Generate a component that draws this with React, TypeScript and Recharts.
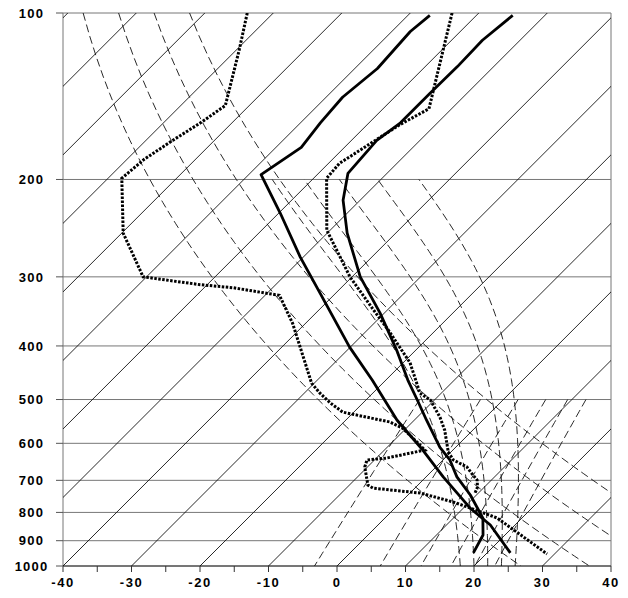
import React from 'react'
import { ScatterChart, Scatter, XAxis, YAxis, CartesianGrid, ReferenceLine } from 'recharts'

// skew of the isotherms: °C shifted per decade of pressure (45° on this plot)
const SKEW = 80.7

const pressureTicks = [100, 200, 300, 400, 500, 600, 700, 800, 900, 1000]
const tempTicks = [-40, -35, -30, -25, -20, -15, -10, -5, 0, 5, 10, 15, 20, 25, 30, 35, 40]

// background families of the diagram
const isotherms = [-120, -110, -100, -90, -80, -70, -60, -50, -40, -30, -20, -10, 0, 10, 20, 30, 40]
const dryAdiabats = [300, 310, 320, 330] // potential temperature, K
const moistAdiabats = [18, 20, 22, 24, 26] // wet-bulb potential temperature, °C
const mixingRatios = [3, 6, 9, 12, 15, 18] // g/kg

// soundings (pressure hPa, temperature °C)
const dottedLeftP = [100, 117, 147, 158, 170, 184, 199, 250, 300, 310, 314, 324, 364, 467, 487, 507, 527, 549, 563, 597, 617, 638, 643, 662, 714, 723, 738, 766, 782, 819, 951]
const dottedLeftT = [-93.8, -89.5, -83.5, -84.6, -86.1, -87.5, -88.0, -79.8, -70.5, -61.0, -55.7, -47.9, -41.9, -30.4, -27.7, -24.8, -21.6, -13.3, -10.6, -6.4, -4.1, -8.5, -11.1, -10.4, -7.3, -6.1, 1.5, 7.6, 10.4, 16.4, 28.9]

const dottedRightP = [100, 149, 159, 187, 199, 247, 300, 344, 374, 429, 487, 501, 538, 568, 622, 643, 662, 685, 699, 720, 738]
const dottedRightT = [-63.9, -53.3, -55.2, -58.4, -58.1, -50.5, -40.3, -32.1, -27.0, -19.0, -13.1, -10.6, -6.7, -4.1, -0.4, 1.5, 4.5, 6.6, 7.9, 9.0, 9.5]

const solidLeftP = [101, 108, 126, 142, 158, 175, 196, 230, 276, 321, 402, 461, 545, 617, 690, 786, 843, 947]
const solidLeftT = [-66.8, -67.3, -66.7, -67.6, -67.1, -66.3, -68.2, -59.8, -50.5, -42.3, -30.1, -22.0, -12.5, -4.4, 2.5, 11.0, 16.4, 23.4]

const solidRightP = [101, 112, 125, 140, 158, 170, 195, 218, 250, 300, 349, 407, 461, 501, 545, 610, 643, 690, 744, 819, 879, 947]
const solidRightT = [-54.7, -55.5, -55.3, -55.4, -55.4, -56.3, -55.7, -52.5, -47.1, -38.8, -30.6, -22.8, -16.8, -12.5, -8.2, -2.3, 1.0, 4.5, 9.1, 14.3, 16.8, 18.0]

const FONT = '"Liberation Sans", Arial, sans-serif'

function skewX(t: number, p: number) {
  return t + SKEW * Math.log10(1000 / p)
}

function profile(pres: number[], temp: number[]) {
  return pres.map((p, i) => ({ p, x: skewX(temp[i], p) }))
}

function levels(from: number, to: number, step: number) {
  const out: number[] = []
  for (let p = from; p <= to; p += step) out.push(p)
  return out
}

function satVap(tc: number) {
  return 6.112 * Math.exp((17.67 * tc) / (tc + 243.5))
}

function dryLine(theta: number) {
  return levels(100, 1000, 10).map(p => ({ p, x: skewX(theta * Math.pow(p / 1000, 0.2857) - 273.15, p) }))
}

function mixingLine(w: number) {
  const r = w / 1000
  return levels(500, 1000, 25).map(p => {
    const e = (r * p) / (0.622 + r)
    const g = Math.log(e / 6.112)
    const td = (243.5 * g) / (17.67 - g)
    return { p, x: skewX(td, p) }
  })
}

function moistLine(thetaW: number) {
  const Rd = 287.04, cp = 1005.7, Lv = 2.501e6, eps = 0.622
  let T = thetaW + 273.15
  const pts: { p: number; x: number }[] = []
  for (let p = 1000; p >= 200; p -= 1) {
    if (p % 10 === 0) pts.push({ p, x: skewX(T - 273.15, p) })
    const es = satVap(T - 273.15)
    const rs = (eps * es) / (p - es)
    const dTdp = ((Rd * T + Lv * rs) / p) / (cp + (Lv * Lv * rs * eps) / (Rd * T * T))
    T -= dTdp
  }
  return pts
}

function isotherm(t: number) {
  return [{ p: 1000, x: skewX(t, 1000) }, { p: 100, x: skewX(t, 100) }]
}

const NoDot = () => <g />

function PressureTick({ y, payload }: { y?: number; payload?: { value: number } }) {
  return (
    <text x={31.5} y={y} dy="0.36em" textAnchor="middle" fontFamily={FONT}
      fontSize={13} fontWeight="bold" letterSpacing={1.2} fill="#000">
      {payload?.value}
    </text>
  )
}

function TempTick({ x, payload }: { x?: number; payload?: { value: number } }) {
  if (!payload || payload.value % 10 !== 0) return <g />
  return (
    <text x={x} y={587} textAnchor="middle" fontFamily={FONT}
      fontSize={13} fontWeight="bold" letterSpacing={1.5} fill="#000">
      {payload.value}
    </text>
  )
}

const thin = { stroke: '#111', strokeWidth: 0.9 }
const dashed = { stroke: '#111', strokeWidth: 0.9, strokeDasharray: '8 4' }
const thickSolid = { stroke: '#000', strokeWidth: 2.8, strokeLinejoin: 'round' as const }
const thickDotted = { stroke: '#000', strokeWidth: 3, strokeDasharray: '2.5 1.5' }

export default function App() {
  return (
    <div style={{ position: 'absolute', left: 0, top: 0, width: 628, height: 598, background: '#fff' }}>
      <ScatterChart width={628} height={598} margin={{ top: 13, right: 17, bottom: 0, left: 0 }}>
        <CartesianGrid vertical={false} stroke="#777" strokeWidth={1} />
        <XAxis type="number" dataKey="x" domain={[-40, 40]} ticks={tempTicks} interval={0}
          allowDataOverflow height={32} tickSize={6} tick={<TempTick />}
          axisLine={{ stroke: '#333' }} tickLine={{ stroke: '#333' }} />
        <YAxis type="number" dataKey="p" scale="log" domain={[100, 1000]} reversed
          ticks={pressureTicks} interval={0} allowDataOverflow width={63} tickSize={7}
          tick={<PressureTick />} axisLine={{ stroke: '#777' }} tickLine={{ stroke: '#555' }} />
        <ReferenceLine x={40} stroke="#777" />
        {isotherms.map(t => (
          <Scatter key={`iso${t}`} data={isotherm(t)} fill="none" line={thin} shape={NoDot} isAnimationActive={false} />
        ))}
        {dryAdiabats.map(th => (
          <Scatter key={`dry${th}`} data={dryLine(th)} fill="none" line={dashed} shape={NoDot} isAnimationActive={false} />
        ))}
        {moistAdiabats.map(tw => (
          <Scatter key={`moist${tw}`} data={moistLine(tw)} fill="none" line={dashed} shape={NoDot} isAnimationActive={false} />
        ))}
        {mixingRatios.map(w => (
          <Scatter key={`mix${w}`} data={mixingLine(w)} fill="none" line={dashed} shape={NoDot} isAnimationActive={false} />
        ))}
        <Scatter data={profile(dottedLeftP, dottedLeftT)} fill="none" line={thickDotted} shape={NoDot} isAnimationActive={false} />
        <Scatter data={profile(dottedRightP, dottedRightT)} fill="none" line={thickDotted} shape={NoDot} isAnimationActive={false} />
        <Scatter data={profile(solidLeftP, solidLeftT)} fill="none" line={thickSolid} shape={NoDot} isAnimationActive={false} />
        <Scatter data={profile(solidRightP, solidRightT)} fill="none" line={thickSolid} shape={NoDot} isAnimationActive={false} />
      </ScatterChart>
    </div>
  )
}
